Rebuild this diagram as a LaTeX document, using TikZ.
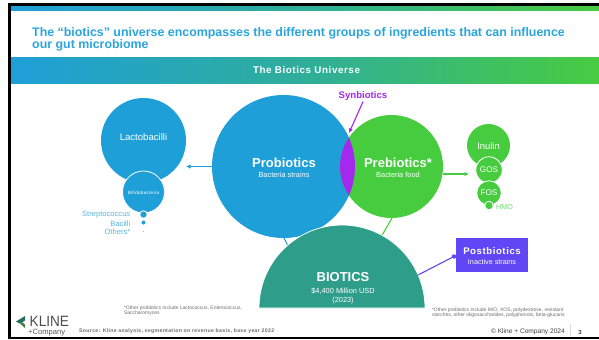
\documentclass[tikz,border=0pt]{standalone}
\usepackage{fontspec}
\setmainfont{Liberation Sans}
\newfontfamily\spaced[LetterSpace=6]{Liberation Sans}
\usetikzlibrary{arrows.meta,calc}
\definecolor{kblue}{HTML}{1F9FD8}
\definecolor{ktitle}{HTML}{2AA5DD}
\definecolor{kteal}{HTML}{2FAE9A}
\definecolor{kgreen}{HTML}{47CC40}
\definecolor{kbiotic}{HTML}{2E9E8A}
\definecolor{kpurple}{HTML}{A428EE}
\definecolor{kpost}{HTML}{6046F5}
\definecolor{kgray}{HTML}{6E6E6E}
\newcommand{\fs}[1]{\fontsize{#1bp}{#1bp}\selectfont}
\tikzset{
 x=1bp,y=-1bp,
 ball/.style={circle,inner sep=0pt,outer sep=0pt},
 white ring/.style={draw=white,line width=.8bp},
 lbl/.style={inner sep=0pt,outer sep=0pt,text=white,align=center},
 note/.style={inner sep=0pt,outer sep=0pt,text=kgray,align=left,anchor=north west,font=\fs{5}},
 link/.style={line width=1.1bp},
 tip/.style={-{Latex[length=4.5bp,width=4.5bp]}},
}
\begin{document}
\begin{tikzpicture}
\useasboundingbox (0,0) rectangle (599,339);
\fill[white] (0,0) rectangle (599,339);
% frame
\fill[black] (8,3) rectangle (599,6);
\fill[black] (8,3) rectangle (11,339);
\fill[black] (8,337) rectangle (599,339);
% bars
\shade[left color=kblue,right color=kgreen,middle color=kteal] (11,6) rectangle (599,10);
\shade[left color=kblue,right color=kgreen,middle color=kteal] (11,57) rectangle (599,83);
\node[inner sep=0pt,text=ktitle,anchor=north west,align=left,font=\fs{12.4}\bfseries] (title) at (32,27) {The “biotics” universe encompasses the different groups of ingredients that can influence\\[-.3bp]our gut microbiome};
\node[lbl,font=\fs{9.8}\spaced\bfseries] (band) at (306.5,70) {The Biotics Universe};
% circles
\node[ball,fill=kblue,minimum size=85bp] (lacto) at (143.5,140.5) {};
\node[ball,fill=kblue,white ring,minimum size=42bp] (bifido) at (143.5,192) {};
\node[ball,fill=kblue,white ring,minimum size=7.5bp] (strep) at (143.5,214.5) {};
\node[ball,fill=kblue,minimum size=4bp] (bac) at (143.5,222.5) {};
\node[ball,fill=kblue,minimum size=.8bp] (oth) at (143.5,231.5) {};
\node[ball,fill=kblue,minimum size=143bp] (pro) at (283.5,166.5) {};
\node[ball,fill=kgreen,minimum size=103bp] (pre) at (391.5,166.5) {};
\begin{scope}
\clip (283.5,166.5) circle[radius=71.5];
\fill[kpurple] (391.5,166.5) circle[radius=51.5];
\end{scope}
\coordinate (proTop) at (284,238);
\coordinate (proBase) at (289,248);
\coordinate (preTop) at (392,218);
\coordinate (preBase) at (381,237);
\draw[link,kblue] (proTop) -- (proBase);
\draw[link,kgreen] (preTop) -- (preBase);
\draw[white,line width=.8bp,fill=kbiotic] (259,308) arc[start angle=180,end angle=0,radius=83bp] -- cycle;
\node[ball,fill=kgreen,minimum size=43bp] (inulin) at (488.5,145.5) {};
\node[ball,fill=kgreen,white ring,minimum size=26.5bp] (gos) at (489,170) {};
\node[ball,fill=kgreen,white ring,minimum size=24.5bp] (fos) at (489,193) {};
\node[ball,fill=kgreen,white ring,minimum size=8.5bp] (hmo) at (489,205.5) {};
% post box
\node[fill=kpost,minimum width=72bp,minimum height=34bp,inner sep=0pt,outer sep=0pt] (post) at (492,255) {};
% connectors
\coordinate (bioEdge) at (418,275);
\coordinate (synEnd) at (349,133);
\coordinate (preR) at (443,174);
\coordinate (inL) at (469,174);
\coordinate (postDot) at (454,256.5);
\draw[link,kpost] (postDot) -- (bioEdge);
\fill[kpost] (postDot) circle[radius=2.2];
\draw[link,kblue,tip] (pro.west) -- (lacto.east |- pro.west);
\draw[link,kgreen,tip] (preR) -- (inL);
\node[inner sep=0pt,text=kpurple,font=\fs{9.6}\bfseries] (syn) at (363,96) {Synbiotics};
\draw[link,kpurple,tip] (syn.south) ++(0,1) -- (synEnd);
% labels
\node[lbl,font=\fs{9.6}] at (143.5,137.5) {Lactobacilli};
\node[lbl,font=\fs{4.6}\spaced] at (143.5,193) {Bifidobacteria};
\node[inner sep=0pt,text=kblue!75,anchor=east,font=\fs{7.6}] at (130.5,215) {Streptococcus};
\node[inner sep=0pt,text=kblue!75,anchor=east,font=\fs{7.6}] at (130.5,223.5) {Bacilli};
\node[inner sep=0pt,text=kblue!75,anchor=east,font=\fs{7.6}] at (130.5,232) {Others*};
\node[lbl,font=\fs{13}\bfseries] at (284,163) {Probiotics};
\node[lbl,font=\fs{7.4}] at (284,175) {Bacteria strains};
\node[lbl,font=\fs{13}\bfseries] at (398,163) {Prebiotics*};
\node[lbl,font=\fs{7.4}] at (398,175) {Bacteria food};
\node[lbl,font=\fs{9.4}] at (488.5,146) {Inulin};
\node[lbl,font=\fs{8.2}] at (489,170) {GOS};
\node[lbl,font=\fs{8.2}] at (489,193) {FOS};
\node[inner sep=0pt,text=kgreen!75,anchor=west,font=\fs{7.2}] at (496,207) {HMO};
\node[lbl,font=\fs{13}\bfseries] at (343,277) {BIOTICS};
\node[lbl,font=\fs{7.4}] at (343,291) {\$4,400 Million USD};
\node[lbl,font=\fs{7.4}] at (343,301) {(2023)};
\node[lbl,font=\fs{9.6}\spaced\bfseries] at (492,251.5) {Postbiotics};
\node[lbl,font=\fs{7.2}] at (492,262) {Inactive strains};
% notes
\node[note] at (124,305.5) {*Other probiotics include Lactococcus, Enterococcus,\\Saccharomyces};
\node[note] at (432,307.5) {*Other prebiotics include IMO, XOS, polydextrose, resistant\\starches, other oligosaccharides, polyphenols, beta-glucans};
\node[inner sep=0pt,text=kgray,anchor=west,font=\fs{5.2}\spaced\bfseries] at (79,331) {Source: Kline analysis, segmentation on revenue basis, base year 2022};
\node[inner sep=0pt,text=black!75,anchor=east,font=\fs{6.6}] at (565,331.5) {© Kline + Company 2024};
\draw[black!15,line width=.5bp] (570,324) -- (570,336);
\node[inner sep=0pt,text=black!75,font=\fs{6}\bfseries] at (580,332.5) {3};
% logo
\fill[kbiotic!70!black] (25,316) -- (16,321.5) -- (20,323.5) -- (25,320.5) -- cycle;
\fill[kgreen!45!black!80] (20,323.5) -- (25,328) -- (25,324.5) -- (22.5,322.3) -- cycle;
\node[inner sep=0pt,text=black!70,anchor=west,font=\fs{13.6}] (kline) at (29.5,321) {\scalebox{1}[1.1]{KLINE}};
\node[inner sep=0pt,text=black!65,anchor=west,font=\fs{7.6}] (comp) at (28,333) {+Company};
\end{tikzpicture}
\end{document}
